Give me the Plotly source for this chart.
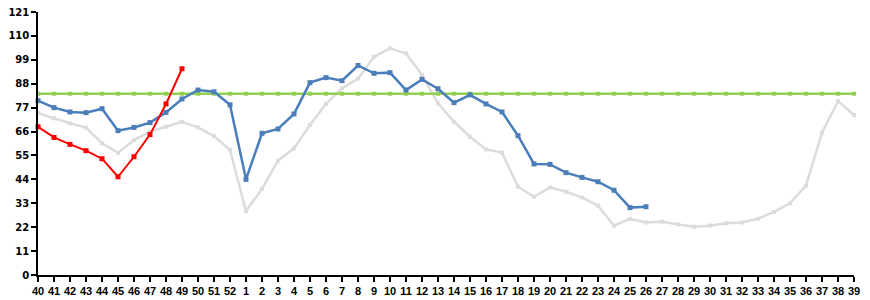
import plotly.graph_objects as go

weeks = [str(w) for w in list(range(40, 53)) + list(range(1, 40))]

prev_season = [74.5, 72.1, 69.8, 67.8, 60.6, 56.3, 62.1, 65.9, 68.2, 70.5, 67.9, 63.9, 57.5,
               29.4, 39.6, 52.6, 58.3, 69.0, 78.7, 85.9, 90.4, 100.4, 104.3, 102.0, 92.0,
               79.0, 70.5, 63.6, 57.8, 56.3, 40.6, 36.0, 40.3, 38.3, 35.7, 31.9, 22.7,
               25.8, 24.2, 24.5, 23.3, 22.2, 22.7, 23.8, 24.2, 25.9, 29.0, 33.0, 41.1,
               65.5, 80.0, 73.6]

current = [80.2, 77.0, 75.0, 74.7, 76.5, 66.4, 67.9, 70.1, 74.8, 81.0, 85.1, 84.3, 78.3,
           44.0, 65.2, 67.2, 74.1, 88.5, 90.8, 89.4, 96.4, 92.8, 93.1, 85.1, 90.0,
           85.7, 79.3, 82.9, 78.7, 75.0, 64.1, 51.1, 50.9, 47.1, 44.9, 42.9, 39.0,
           31.0, 31.4]

other = [68.2, 63.3, 60.1, 57.2, 53.5, 45.2, 54.4, 64.6, 78.7, 94.9]

threshold = [83.4] * len(weeks)

y_ticks = list(range(0, 122, 11))

fig = go.Figure()
fig.add_trace(go.Scatter(x=weeks, y=prev_season, mode="lines+markers",
                         line=dict(color="#dcdcdc", width=2.5),
                         marker=dict(symbol="square", size=4, color="#dcdcdc"),
                         cliponaxis=False))
fig.add_trace(go.Scatter(x=weeks, y=threshold, mode="lines+markers",
                         line=dict(color="#92d050", width=2.5),
                         marker=dict(symbol="square", size=4, color="#92d050"),
                         cliponaxis=False))
fig.add_trace(go.Scatter(x=weeks[:len(current)], y=current, mode="lines+markers",
                         line=dict(color="#4a7ebb", width=2.5),
                         marker=dict(symbol="square", size=5, color="#4a7ebb"),
                         cliponaxis=False))
fig.add_trace(go.Scatter(x=weeks[:len(other)], y=other, mode="lines+markers",
                         line=dict(color="#ff0000", width=2),
                         marker=dict(symbol="square", size=5, color="#ff0000"),
                         cliponaxis=False))

fig.update_layout(
    width=870, height=300,
    margin=dict(l=38, r=16, t=12, b=25),
    paper_bgcolor="white", plot_bgcolor="white",
    showlegend=False,
    xaxis=dict(type="category", categoryorder="array", categoryarray=weeks,
               range=[0, len(weeks) - 1], tickmode="array", tickvals=weeks, ticktext=weeks,
               automargin=False,
               showgrid=False, zeroline=False, showline=True, linecolor="black", linewidth=1.5,
               ticks="outside", ticklen=5, tickcolor="black", tickwidth=1.5,
               tickfont=dict(family="Liberation Sans", size=11, color="black", weight="bold")),
    yaxis=dict(range=[0, 121], tickvals=y_ticks, showgrid=False, zeroline=False,
               automargin=False,
               showline=True, linecolor="black", linewidth=1.5,
               ticks="outside", ticklen=5, tickcolor="black", tickwidth=1.5,
               tickfont=dict(family="DejaVu Sans", size=10, color="black", weight="bold")),
)

fig.write_html("out.html")
